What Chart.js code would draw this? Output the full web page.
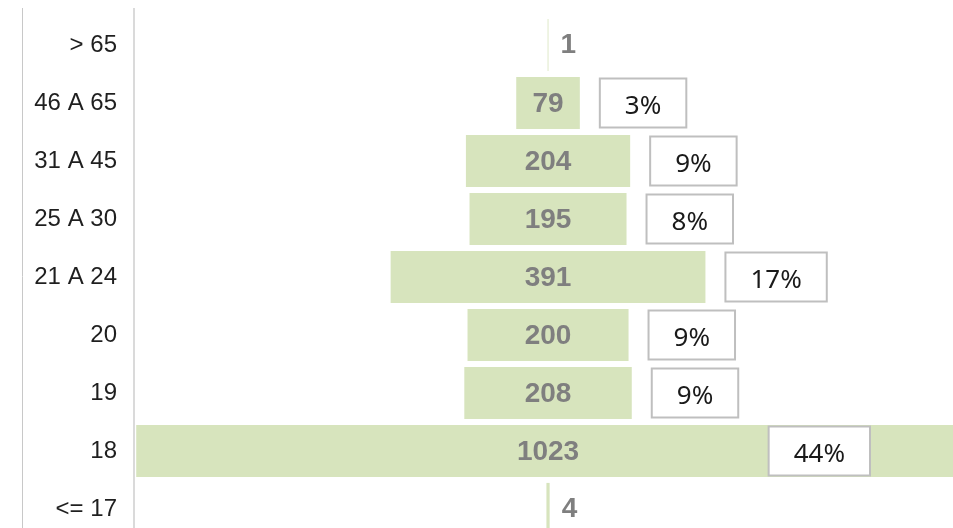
<!DOCTYPE html>
<html><head><meta charset="utf-8">
<script src="https://cdn.jsdelivr.net/npm/chart.js@4/dist/chart.umd.min.js"></script>
<style>
html,body{margin:0;padding:0;overflow:hidden;background:#fff}
#wrap{position:relative;width:953px;height:545px}
</style></head><body>
<div id="wrap"><canvas id="c"></canvas></div>
<script>
const categories = ["> 65","46 A 65","31 A 45","25 A 30","21 A 24","20","19","18","<= 17"];
const counts = [1,79,204,195,391,200,208,1023,4];
const shareLabels = ["","3%","9%","8%","17%","9%","9%","44%",""];

const barColor = '#d7e4bd';

const framePlugin = {
  id:'frame',
  afterDatasetsDraw(chart){
    const ctx = chart.ctx, a = chart.chartArea;
    ctx.save();
    ctx.strokeStyle = '#c8c8c8'; ctx.lineWidth = 1;
    ctx.beginPath(); ctx.moveTo(22.5, 8); ctx.lineTo(22.5, chart.height); ctx.stroke();
    ctx.strokeStyle = '#dadada'; ctx.lineWidth = 2;
    ctx.beginPath(); ctx.moveTo(a.left+1, 8); ctx.lineTo(a.left+1, chart.height); ctx.stroke();
    ctx.restore();
  }
};

const labelPlugin = {
  id:'labels',
  afterDatasetsDraw(chart){
    const ctx = chart.ctx, a = chart.chartArea;
    const meta = chart.getDatasetMeta(0);
    ctx.save();
    meta.data.forEach((el, i) => {
      const left = Math.min(el.x, el.base), right = Math.max(el.x, el.base);
      const cy = el.y;
      ctx.font = 'bold 28px "Liberation Sans", Arial, sans-serif';
      ctx.fillStyle = '#7f7f7f';
      ctx.textBaseline = 'middle';
      const txt = String(counts[i]);
      const tw = ctx.measureText(txt).width;
      if (right - left < tw + 4) {
        ctx.textAlign = 'left';
        ctx.fillText(txt, right + 12, cy);
      } else {
        ctx.textAlign = 'center';
        ctx.fillText(txt, (left + right) / 2, cy + 1);
      }
      const s = shareLabels[i];
      if (s) {
        ctx.font = '26px "Noto Sans", sans-serif';
        const sw = ctx.measureText(s).width;
        const w = Math.max(84, sw + 50), h = 49;
        let bx = right + 20;
        if (bx + w > a.right - 60) bx = a.right - 83 - w;
        const by = cy - h / 2;
        ctx.fillStyle = '#ffffff';
        ctx.fillRect(bx, by, w, h);
        ctx.strokeStyle = '#bfbfbf'; ctx.lineWidth = 2;
        ctx.strokeRect(bx, by, w, h);
        ctx.fillStyle = '#1a1a1a';
        ctx.textAlign = 'center';
        ctx.textBaseline = 'middle';
        ctx.fillText(s, bx + w / 2, cy + 4);
      }
    });
    ctx.restore();
  }
};

new Chart(document.getElementById('c'), {
  type: 'bar',
  data: {
    labels: categories,
    datasets: [{
      data: counts.map(v => [-v / 2, v / 2]),
      backgroundColor: barColor,
      borderWidth: 0,
      categoryPercentage: 1,
      barPercentage: 0.9
    }]
  },
  options: {
    indexAxis: 'y',
    responsive: true,
    maintainAspectRatio: false,
    animation: false,
    devicePixelRatio: 1,
    layout: { padding: { top: 16, bottom: 7, left: 0, right: 0 } },
    plugins: { legend: { display: false }, tooltip: { enabled: false } },
    scales: {
      x: { display: false, min: -515.5, max: 503 },
      y: {
        grid: { display: false, drawTicks: false },
        border: { display: false },
        ticks: {
          padding: 16,
          color: '#1f1f1f',
          font: { family: '"Liberation Sans", Arial, sans-serif', size: 24 }
        },
        afterFit(scale){ scale.width = 133; scale.paddingTop = 0; scale.paddingBottom = 0; }
      }
    }
  },
  plugins: [framePlugin, labelPlugin]
});
</script>
</body></html>
